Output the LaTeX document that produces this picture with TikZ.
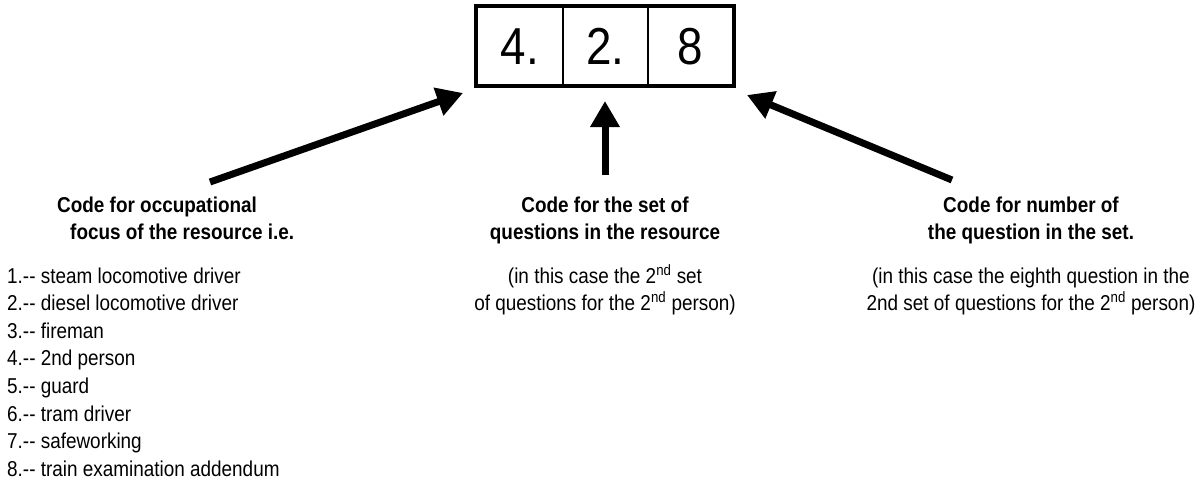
\documentclass[tikz,border=0pt]{standalone}
\usepackage{fontspec}
\setmainfont{Liberation Sans}[FakeStretch=0.88]
\usetikzlibrary{arrows.meta}
\begin{document}
\begin{tikzpicture}[x=1pt,y=-1pt,
  cell/.style={draw, line width=1.6pt, minimum height=78.5pt, inner sep=0pt, font=\fontsize{52}{52}\selectfont},
  bigarrow/.style={line width=7pt, -{Triangle[length=26pt,width=28pt]}},
  txt/.style={font=\fontsize{21.5}{27.6}\selectfont, inner sep=0pt, anchor=base},
  ttl/.style={txt, font=\bfseries\fontsize{21.5}{27.6}\selectfont}]
\useasboundingbox (0,0) rectangle (1203,479);
% code box
\node[cell, minimum width=86pt] (c1) at (520,46.25) {4.};
\node[cell, minimum width=85pt] (c2) at (605.5,46.25) {2.};
\node[cell, minimum width=85pt] (c3) at (690.5,46.25) {8};
\draw[line width=4pt] (c1.north west) rectangle (c3.south east);
% arrows
\coordinate (lt) at (210,182); \coordinate (lh) at (463,93);
\coordinate (mt) at (605,175); \coordinate (mh) at (605,101);
\coordinate (rt) at (952,180); \coordinate (rh) at (747,95);
\draw[bigarrow] (lt) -- (lh);
\draw[bigarrow] (mt) -- (mh);
\draw[bigarrow] (rt) -- (rh);
% left texts
\node[ttl, anchor=base west] (l1) at (57,212) {Code for occupational};
\node[ttl, anchor=base west] (l2) at (70,239) {focus of the resource i.e.};
\foreach \t [count=\i from 0] in {steam locomotive driver,diesel locomotive driver,fireman,2nd person,guard,tram driver,safeworking,train examination addendum}{
  \pgfmathsetmacro{\yy}{283+27.6*\i}
  \pgfmathtruncatemacro{\n}{\i+1}
  \node[txt, anchor=base west] (item\n) at (7,\yy) {\n.-{}- \t};
}
% middle texts
\node[ttl] (m1) at (605,212) {Code for the set of};
\node[ttl] (m2) at (605,239) {questions in the resource};
\node[txt] (m3) at (605,283) {(in this case the 2\textsuperscript{nd} set};
\node[txt] (m4) at (605,310) {of questions for the 2\textsuperscript{nd} person)};
% right texts
\node[ttl] (r1) at (1031,212) {Code for number of};
\node[ttl] (r2) at (1031,239) {the question in the set.};
\node[txt] (r3) at (1031,283) {(in this case the eighth question in the};
\node[txt] (r4) at (1031,310) {2nd set of questions for the 2\textsuperscript{nd} person)};
\end{tikzpicture}
\end{document}
